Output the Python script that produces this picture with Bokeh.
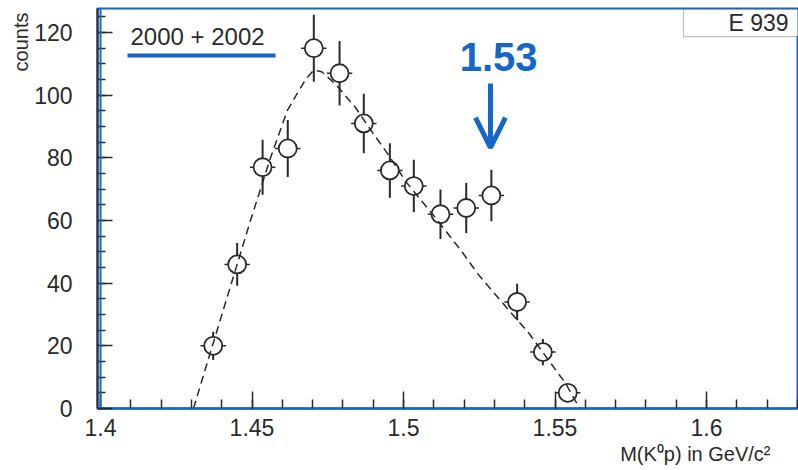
from bokeh.plotting import figure
from bokeh.models import (Range1d, FixedTicker, Label, BoxAnnotation, Span,
                          Arrow, OpenHead, ColumnDataSource, Title)
from bokeh.embed import file_html
from bokeh.resources import INLINE

# ---- data ----
mass = [1.4372, 1.4451, 1.4535, 1.4618, 1.4704, 1.4789, 1.4869, 1.4955,
        1.5034, 1.5122, 1.5207, 1.5290, 1.5375, 1.5460, 1.5542]
counts = [20, 46, 77, 83, 115, 107, 91, 76, 71, 62, 64, 68, 34, 18, 5]
errors = [4.5, 6.8, 8.8, 9.1, 10.7, 10.3, 9.5, 8.7, 8.4, 7.9, 8.0, 8.2, 5.8, 4.2, 2.2]
half_bin = 0.0042

fit_x = [1.4307, 1.4341, 1.4407, 1.4495, 1.4561, 1.4616, 1.4649, 1.4677,
         1.4704, 1.4730, 1.4776, 1.4842, 1.4891, 1.4950, 1.5007, 1.5062,
         1.5117, 1.5193, 1.5249, 1.5342, 1.5414, 1.5463, 1.5535, 1.5573, 1.5585]
fit_y = [0, 11, 32, 60, 80, 95, 100.5, 105, 108, 107.5, 103.5, 96, 89, 81,
         72.5, 66, 59.5, 50, 42.5, 32, 24, 17.5, 8, 1.5, 0]

x_ticks = [1.4, 1.45, 1.5, 1.55, 1.6]
x_tick_labels = ["1.4", "1.45", "1.5", "1.55", "1.6"]
x_minor = [round(1.40 + 0.01 * i, 2) for i in range(24)]
y_ticks = [0, 20, 40, 60, 80, 100, 120]
y_minor = list(range(0, 130, 5))

peak_mass = 1.5287
peak_label = "1.53"
legend_text = "2000 + 2002"
entries_text = "E 939"
x_title = "M(K\u2070p) in GeV/c\u00b2"
y_title = "counts"

BLUE = "#1466c8"
DARK = "#2a2a2a"
FONT = "Liberation Sans"

p = figure(width=798, height=470, output_backend="svg", toolbar_location=None,
           x_range=Range1d(1.39901, 1.63003), y_range=Range1d(0, 127.67),
           min_border_left=97, min_border_right=1, min_border_top=8,
           min_border_bottom=62)
p.xgrid.visible = False
p.ygrid.visible = False
p.outline_line_color = BLUE
p.outline_line_width = 2
p.background_fill_color = "white"
p.border_fill_color = "white"

# axes
p.xaxis.ticker = FixedTicker(ticks=x_ticks, minor_ticks=x_minor)
p.xaxis.major_label_overrides = dict(zip(x_ticks, x_tick_labels))
p.yaxis.ticker = FixedTicker(ticks=y_ticks, minor_ticks=y_minor)
for ax in (p.xaxis[0], p.yaxis[0]):
    ax.major_tick_out = 0
    ax.minor_tick_out = 0
    ax.major_tick_line_color = DARK
    ax.minor_tick_line_color = DARK
    ax.major_tick_line_width = 1.5
    ax.minor_tick_line_width = 1.5
    ax.major_label_text_font = FONT
    ax.major_label_text_font_size = "23px"
    ax.major_label_text_color = DARK
p.xaxis.major_tick_in = 17
p.xaxis.minor_tick_in = 9
p.xaxis.axis_line_color = BLUE
p.xaxis.axis_line_width = 2.5
p.xaxis.major_label_standoff = 10
p.yaxis.major_tick_in = 15
p.yaxis.minor_tick_in = 8
p.yaxis.axis_line_color = DARK
p.yaxis.axis_line_width = 2
p.yaxis.major_label_standoff = 25

p.add_layout(Span(location=1.4, dimension="height", line_color=BLUE, line_width=2))

# axis titles
p.add_layout(Title(text=x_title, align="right", offset=27, standoff=5,
                   text_font=FONT, text_font_size="20px", text_font_style="normal",
                   text_color=DARK), "below")
p.add_layout(Title(text=y_title, align="right", offset=4, standoff=0,
                   text_font=FONT, text_font_size="20px", text_font_style="normal",
                   text_color=DARK), "left")

# data points
src = ColumnDataSource(dict(
    x=mass, y=counts,
    lo=[c - e for c, e in zip(counts, errors)],
    hi=[c + e for c, e in zip(counts, errors)],
    xl=[m - half_bin for m in mass],
    xr=[m + half_bin for m in mass],
))
p.segment(x0="x", y0="lo", x1="x", y1="hi", source=src, line_color=DARK, line_width=2)
p.segment(x0="xl", y0="y", x1="xr", y1="y", source=src, line_color=DARK, line_width=1.5)
p.scatter(x="x", y="y", source=src, marker="circle", size=18,
          fill_color="white", line_color=DARK, line_width=1.8)

# fit curve
p.line(fit_x, fit_y, line_color=DARK, line_width=1.5, line_dash="8 5")

# peak marker
p.add_layout(Label(x=1.5314, y=112.1, text=peak_label, text_align="center",
                   text_baseline="alphabetic", text_font=FONT,
                   text_font_style="bold", text_font_size="40px", text_color=BLUE))
p.add_layout(Arrow(end=OpenHead(size=30, line_width=5, line_color=BLUE),
                   x_start=peak_mass, y_start=103.7, x_end=peak_mass, y_end=83.3,
                   line_color=BLUE, line_width=5))

# legend text with underline
p.add_layout(Label(x=1.4099, y=118.8, text=legend_text, text_align="left",
                   text_baseline="alphabetic", text_font=FONT,
                   text_font_size="24px", text_color=DARK))
p.add_layout(BoxAnnotation(left=1.40891, right=1.45776, bottom=112.0, top=113.3,
                           fill_color=BLUE, fill_alpha=1, line_color=None))

# entries box
p.add_layout(BoxAnnotation(left=1.59241, right=1.64, bottom=118.7, top=127.35,
                           fill_color="white", fill_alpha=1,
                           line_color=DARK, line_width=1.2))
p.add_layout(Label(x=1.60727, y=123.2, text=entries_text, text_align="left",
                   text_baseline="alphabetic", text_font=FONT,
                   text_font_size="23px", text_color=DARK))

open("out.html", "w").write(file_html(p, INLINE))
